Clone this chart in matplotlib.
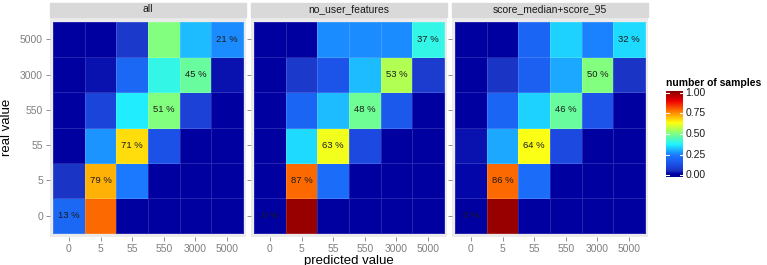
import numpy as np
import matplotlib
matplotlib.use("Agg")
import matplotlib.pyplot as plt
from matplotlib.colors import LinearSegmentedColormap

plt.rcParams['font.family'] = ['Liberation Sans', 'DejaVu Sans']

# ----------------------------
# Data
# ----------------------------
bins = ["0", "5", "55", "550", "3000", "5000"]
facets = ["all", "no_user_features", "score_median+score_95"]

# fill values, rows = real value from 0 (bottom) to 5000 (top), cols = predicted value
fill_all = [
    [0.21, 0.77, 0.03, 0.03, 0.03, 0.03],   # real 0
    [0.08, 0.70, 0.25, 0.03, 0.03, 0.03],   # real 5
    [0.03, 0.28, 0.66, 0.15, 0.03, 0.03],   # real 55
    [0.03, 0.12, 0.37, 0.50, 0.11, 0.03],   # real 550
    [0.03, 0.05, 0.21, 0.40, 0.47, 0.05],   # real 3000
    [0.03, 0.03, 0.09, 0.50, 0.32, 0.27],   # real 5000
]
fill_no_user = [
    [0.03, 0.97, 0.03, 0.03, 0.03, 0.03],
    [0.03, 0.77, 0.22, 0.03, 0.03, 0.03],
    [0.03, 0.35, 0.61, 0.13, 0.03, 0.03],
    [0.03, 0.20, 0.32, 0.48, 0.17, 0.03],
    [0.03, 0.09, 0.16, 0.32, 0.55, 0.10],
    [0.03, 0.03, 0.27, 0.27, 0.27, 0.40],
]
fill_score = [
    [0.03, 0.97, 0.03, 0.03, 0.03, 0.03],
    [0.04, 0.77, 0.22, 0.03, 0.03, 0.03],
    [0.05, 0.30, 0.62, 0.13, 0.03, 0.03],
    [0.03, 0.20, 0.34, 0.47, 0.16, 0.03],
    [0.03, 0.08, 0.19, 0.30, 0.50, 0.08],
    [0.03, 0.03, 0.20, 0.34, 0.26, 0.35],
]

# diagonal labels (real == predicted), from 0 up to 5000
diag_all = [13, 79, 71, 51, 45, 21]
diag_no_user = [0, 87, 63, 48, 53, 37]
diag_score = [0, 86, 64, 46, 50, 32]

fills = [fill_all, fill_no_user, fill_score]
diags = [diag_all, diag_no_user, diag_score]

# jet-like palette, a bit muted in the blues
cmap = LinearSegmentedColormap.from_list("jetish", [
    (0.0, "#00008c"), (0.035, "#0000a6"), (0.07, "#1a30c0"),
    (0.14, "#1c4ee6"), (0.25, "#1a78ff"), (0.375, "#20f4ff"),
    (0.5, "#80ff80"), (0.625, "#ffff10"), (0.75, "#ff8000"),
    (0.875, "#ee0000"), (1.0, "#800000"),
])

# ----------------------------
# Plot
# ----------------------------
W, H = 767, 265
fig = plt.figure(figsize=(W / 100, H / 100), dpi=100)

panel_x = [50, 251, 452]
panel_w = 196
panel_top = 18
panel_bot = 237
strip_h = 15
tick_col = "#7f7f7f"

for i, (name, fill, diag) in enumerate(zip(facets, fills, diags)):
    ax = fig.add_axes([panel_x[i] / W, 1 - panel_bot / H,
                       panel_w / W, (panel_bot - panel_top) / H])
    ax.set_facecolor("#ebebeb")
    n = len(bins)
    edges = np.arange(n + 1) - 0.5
    ax.pcolormesh(edges, edges, np.array(fill), cmap=cmap, vmin=0, vmax=1,
                  edgecolor=(1, 1, 1, 0.15), linewidth=0.5)
    for k, v in enumerate(diag):
        ax.text(k, k, f"{v} %", ha="center", va="center", fontsize=6.8,
                color="#1a1a1a")
    ax.set_xlim(-0.6, n - 0.4)
    ax.set_ylim(-0.6, n - 0.4)
    ax.set_xticks(range(n))
    ax.set_xticklabels(bins)
    ax.set_yticks(range(n))
    if i == 0:
        ax.set_yticklabels(bins)
        ax.set_ylabel("real value", fontsize=9.5, labelpad=5)
    else:
        ax.set_yticklabels([])
    if i == 1:
        ax.set_xlabel("predicted value", fontsize=9.5, labelpad=1)
    ax.tick_params(colors=tick_col, labelcolor=tick_col, labelsize=7.5,
                   length=3, width=0.6, pad=2)
    for s in ax.spines.values():
        s.set_visible(False)

    # facet strip
    fig.patches.append(plt.Rectangle((panel_x[i] / W, 1 - (panel_top - 1) / H),
                                     panel_w / W, (strip_h - 1) / H,
                                     transform=fig.transFigure,
                                     color="#d9d9d9", zorder=0))
    fig.text((panel_x[i] + panel_w / 2) / W, 1 - (panel_top - 1 - strip_h / 2) / H,
             name, ha="center", va="center", fontsize=7.5, color="#1a1a1a")

# colorbar legend
cax = fig.add_axes([666 / W, 1 - 177 / H, 17 / W, 86 / H])
grad = np.linspace(0, 1, 256).reshape(-1, 1)
cax.imshow(grad, aspect="auto", cmap=cmap, origin="lower",
           extent=[0, 1, 0, 1])
cb_ticks = [0.0, 0.25, 0.5, 0.75, 1.0]
for tk in cb_ticks:
    y = 0.02 + tk * 0.96
    cax.plot([0, 0.2], [y, y], color="white", lw=0.8)
    cax.plot([0.8, 1], [y, y], color="white", lw=0.8)
    cax.text(1.15, y, f"{tk:.2f}", va="center", ha="left", fontsize=7.5,
             color="#1a1a1a", transform=cax.transAxes)
cax.set_xlim(0, 1)
cax.set_ylim(0, 1)
cax.set_axis_off()
fig.text(666 / W, 1 - 83 / H, "number of samples", fontsize=7.5,
         fontweight="bold", va="center", ha="left")

fig.savefig("out.png", dpi=100)
